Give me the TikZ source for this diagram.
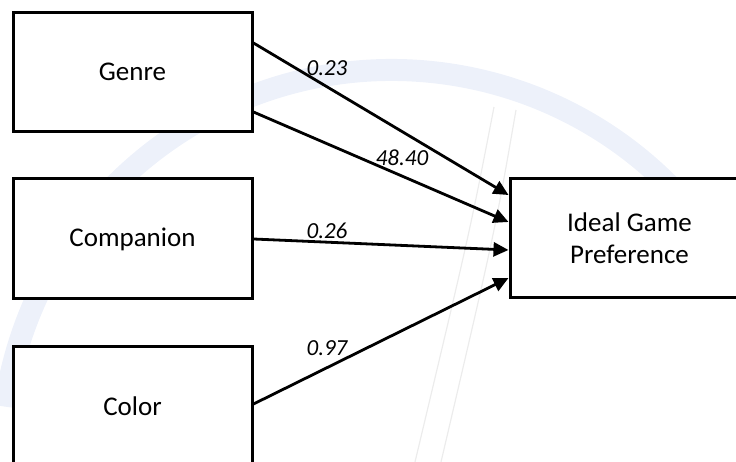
\documentclass[tikz,border=0pt]{standalone}
\usepackage{fontspec}
\setmainfont{Carlito}
\usetikzlibrary{arrows.meta}
\definecolor{wmblue}{RGB}{237,241,250}
\definecolor{wmgray}{RGB}{236,236,236}
\tikzset{
  varbox/.style={draw=black, line width=3pt, fill=white, rectangle,
    minimum width=239pt, minimum height=119pt, inner sep=0pt,
    font=\fontsize{27}{32}\selectfont, align=center},
  path/.style={draw=black, line width=2.8pt, -{Triangle[length=15pt,width=14pt]}},
  coef/.style={font=\fontsize{23}{27}\selectfont\itshape, inner sep=0pt}
}
\begin{document}
\begin{tikzpicture}[x=1pt,y=-1pt]
\useasboundingbox (0,0) rectangle (736,462);
\clip (0,0) rectangle (736,462);
% faint watermark
\draw[wmblue, line width=22pt] (392,461) ++(188:391) arc[start angle=188, end angle=318, radius=391];
\draw[wmgray, line width=1.2pt] (494,107) .. controls (470,231) .. (415,462);
\draw[wmgray, line width=1.2pt] (516,110) .. controls (495,231) .. (441,462);
% boxes
\node[varbox] (genre) at (132.5,72) {Genre};
\node[varbox, minimum height=120pt] (comp) at (132.5,239) {Companion};
\node[varbox, minimum height=120pt] (color) at (132.5,406) {Color};
\node[varbox] (ideal) at (629.5,238.5) {Ideal Game\\Preference};
% paths
\draw[path] ([yshift=29pt]genre.east) -- ([yshift=43.5pt]ideal.west);
\draw[path] ([yshift=-40pt]genre.east) -- ([yshift=16.5pt]ideal.west);
\draw[path] (comp.east) -- ([yshift=-11.5pt]ideal.west);
\draw[path] ([yshift=2pt]color.east) -- ([yshift=-39.5pt]ideal.west);
% coefficients
\node[coef] (c1) at (327,68) {0.23};
\node[coef] (c2) at (402,158) {48.40};
\node[coef] (c3) at (327,231) {0.26};
\node[coef] (c4) at (327,348) {0.97};
\end{tikzpicture}
\end{document}
